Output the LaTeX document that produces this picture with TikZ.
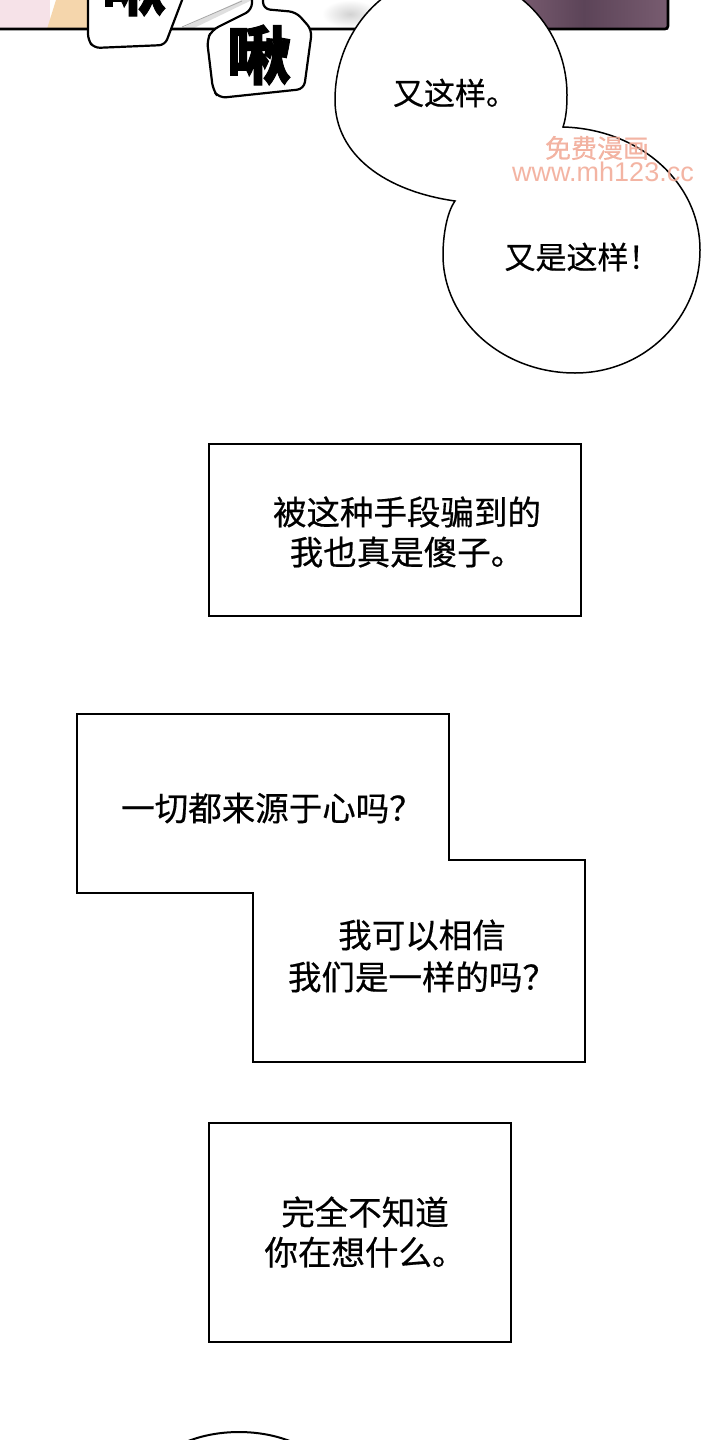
\documentclass[tikz,border=0pt]{standalone}
\usepackage{fontspec}
\newfontfamily\cjk[FakeBold=0.5]{Noto Sans CJK SC}
\newfontfamily\cjkheavy[FakeBold=1.5]{Noto Sans CJK SC}
\newfontfamily\latin{Liberation Sans}
\definecolor{speckle}{RGB}{246,226,232}
\definecolor{skin}{RGB}{245,214,172}
\definecolor{plumL}{RGB}{128,98,118}
\definecolor{plumM}{RGB}{92,68,88}
\definecolor{plumR}{RGB}{120,92,112}
\definecolor{mark}{RGB}{242,168,148}

\begin{document}
\begin{tikzpicture}[x=1pt,y=-1pt,
  caption/.style={font=\cjk\fontsize{33.5}{40}\selectfont, align=center, inner sep=0pt},
  speech/.style={font=\cjk\fontsize{31}{38}\selectfont, inner sep=0pt},
  sfx/.style={font=\cjkheavy\bfseries\fontsize{64}{64}\selectfont, anchor=base, inner sep=0pt},
  watermark/.style={text=mark, inner sep=0pt, opacity=0.85}]

\useasboundingbox (0,0) rectangle (720,1440);
\fill[white] (0,0) rectangle (720,1440);
\clip (0,0) rectangle (720,1440);

\fill[speckle] (0,0) rectangle (50,29);
\fill[skin] (56,0) -- (90,0) -- (90,29) -- (47,29) -- cycle;
\fill[gray!25] (180,29) -- (242,0) -- (252,0) -- (192,29) -- cycle;
\draw[gray!70, line width=0.8pt] (182,27) -- (242,1);
\shade[inner color=gray!35, outer color=white] (350,14) ellipse (28 and 14);
\shade[left color=plumL, right color=plumR, middle color=plumM] (500,0) rectangle (668,29);
\draw[line width=2.6pt, rounded corners=3pt] (0,29) -- (668,29) -- (668,-2);

\filldraw[fill=white, line width=2.2pt, rounded corners=6pt] (88,-5) -- (88,40) -- (94,48) -- (165,45) -- (184,-5);
\node[sfx] (chuA) at (134,10) {啾};

\filldraw[fill=white, line width=2.2pt, rounded corners=7pt] (252,-5) -- (252,10) -- (212,30) -- (207,40) -- (213,90) -- (219,98) -- (304,89) -- (312,30) -- (296,12) -- (263,9) -- (263,-5);
\node[sfx] (chuB) at (259,79) {啾};

\filldraw[fill=white, line width=1.5pt] (455,201) .. controls (385,191) and (335,155) .. (335,100)
  .. controls (335,30) and (387,-26) .. (451,-26)
  .. controls (515,-26) and (567,28) .. (567,95)
  .. controls (567,108) and (566,118) .. (563,127)
  .. controls (639,129) and (700,182) .. (700,250)
  .. controls (700,318) and (645,373) .. (575,373)
  .. controls (502,373) and (443,320) .. (443,255)
  .. controls (443,235) and (447,212) .. (455,201) -- cycle;
\node[speech] (again) at (455,93) {又这样。};
\node[speech] (againtoo) at (582,257) {又是这样！};

\draw[line width=1.4pt] (209,444) rectangle (581,616);
\node[caption] (fooled) at (407,532) {被这种手段骗到的\\我也真是傻子。};

\draw[line width=1.4pt] (77,714) -- (449,714) -- (449,860) -- (585,860) -- (585,1062) -- (253,1062) -- (253,893) -- (77,893) -- cycle;
\node[caption] (heart) at (272,808) {一切都来源于心吗？};
\node[caption] (trust) at (422,956) {我可以相信\\[2pt]我们是一样的吗？};

\draw[line width=1.4pt] (209,1123) rectangle (511,1342);
\node[caption] (unknown) at (365,1232) {完全不知道\\你在想什么。};

\draw[line width=2pt] (239,1497) ellipse (100 and 65);

\node[watermark, font=\cjk\fontsize{26}{26}\selectfont] (markcn) at (597,148) {免费漫画};
\node[watermark, font=\latin\fontsize{27}{27}\selectfont] (markurl) at (603,172) {www.mh123.cc};

\end{tikzpicture}
\end{document}
